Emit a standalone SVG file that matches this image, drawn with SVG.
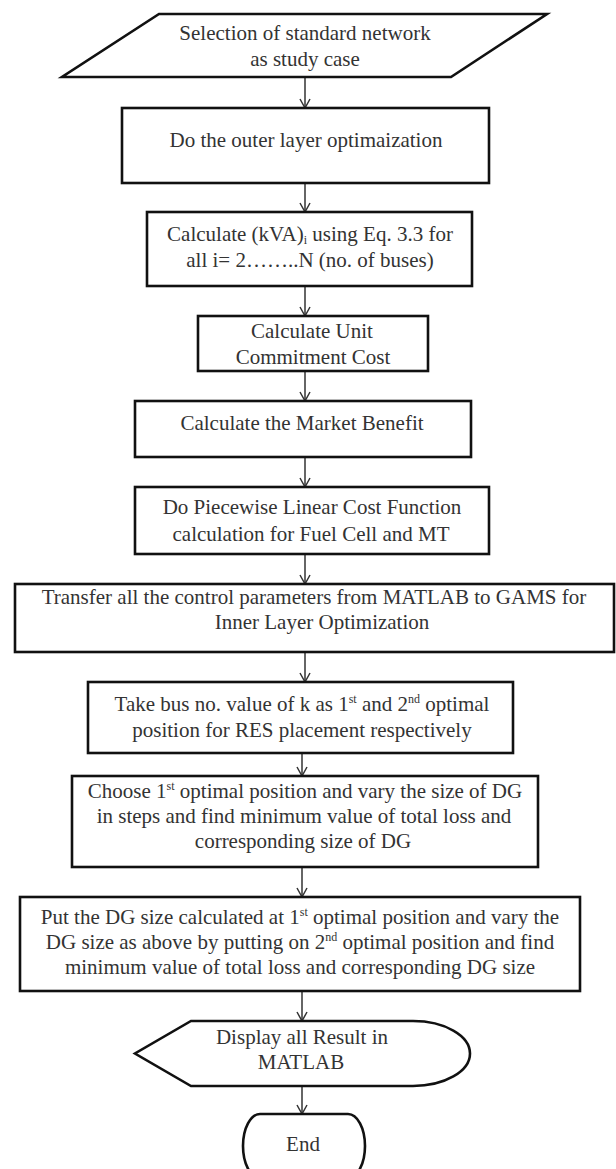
<svg xmlns="http://www.w3.org/2000/svg" width="616" height="1169" viewBox="0 0 616 1169">
<style>
.box{fill:#fff;stroke:#111;stroke-width:2.6}
.t{font-family:"Liberation Serif","Times New Roman",serif;font-size:21px;fill:#333;text-anchor:middle}
.c{stroke:#333;stroke-width:1.5;fill:none}
.sup{font-size:12px}
</style>
<defs>
<marker id="ah" markerWidth="12" markerHeight="12" refX="10" refY="6" orient="auto" markerUnits="userSpaceOnUse">
<path d="M1,1 L10,6 L1,11" fill="none" stroke="#333" stroke-width="1.5"/>
</marker>
</defs>
<rect width="616" height="1169" fill="#fff"/>
<g id="connectors">
<line class="c" x1="305" y1="77" x2="305" y2="108" marker-end="url(#ah)"/>
<line class="c" x1="305" y1="183" x2="305" y2="212" marker-end="url(#ah)"/>
<line class="c" x1="305" y1="286" x2="305" y2="316" marker-end="url(#ah)"/>
<line class="c" x1="305" y1="371" x2="305" y2="401" marker-end="url(#ah)"/>
<line class="c" x1="305" y1="457" x2="305" y2="487" marker-end="url(#ah)"/>
<line class="c" x1="305" y1="554" x2="305" y2="584" marker-end="url(#ah)"/>
<line class="c" x1="305" y1="652" x2="305" y2="682" marker-end="url(#ah)"/>
<line class="c" x1="302" y1="753" x2="302" y2="776" marker-end="url(#ah)"/>
<line class="c" x1="302" y1="867" x2="302" y2="897" marker-end="url(#ah)"/>
<line class="c" x1="302" y1="991" x2="302" y2="1021" marker-end="url(#ah)"/>
<line class="c" x1="302" y1="1086" x2="302" y2="1114" marker-end="url(#ah)"/>
</g>
<g id="n1">
<polygon class="box" points="159,14 547,14 451,77 62,77"/>
<text class="t" x="305" y="40">Selection of standard network</text>
<text class="t" x="305" y="66">as study case</text>
</g>
<g id="n2">
<rect class="box" x="122" y="108" width="367" height="75"/>
<text class="t" x="306" y="147">Do the outer layer optimaization</text>
</g>
<g id="n3">
<rect class="box" x="147" y="212" width="325" height="74"/>
<text class="t" x="310" y="241">Calculate (kVA)<tspan class="sup" dy="3">i</tspan><tspan dy="-3"> using Eq. 3.3 for</tspan></text>
<text class="t" x="310" y="267">all i= 2……..N (no. of buses)</text>
</g>
<g id="n4">
<rect class="box" x="198" y="316" width="230" height="55"/>
<text class="t" x="312" y="338">Calculate Unit</text>
<text class="t" x="313" y="364">Commitment Cost</text>
</g>
<g id="n5">
<rect class="box" x="135" y="401" width="336" height="56"/>
<text class="t" x="302" y="430">Calculate the Market Benefit</text>
</g>
<g id="n6">
<rect class="box" x="135" y="487" width="354" height="67"/>
<text class="t" x="312" y="514">Do Piecewise Linear Cost Function</text>
<text class="t" x="311" y="541">calculation for Fuel Cell and MT</text>
</g>
<g id="n7">
<rect class="box" x="15" y="584" width="599" height="68"/>
<text class="t" x="314" y="604">Transfer all the control parameters from MATLAB to GAMS for</text>
<text class="t" x="322" y="629">Inner Layer Optimization</text>
</g>
<g id="n8">
<rect class="box" x="88" y="682" width="425" height="71"/>
<text class="t" x="302" y="711">Take bus no. value of k as 1<tspan class="sup" dy="-8">st</tspan><tspan dy="8"> and 2</tspan><tspan class="sup" dy="-8">nd</tspan><tspan dy="8"> optimal</tspan></text>
<text class="t" x="302" y="737">position for RES placement respectively</text>
</g>
<g id="n9">
<rect class="box" x="72" y="776" width="466" height="91"/>
<text class="t" x="305" y="798">Choose 1<tspan class="sup" dy="-8">st</tspan><tspan dy="8"> optimal position and vary the size of DG</tspan></text>
<text class="t" x="304" y="823">in steps and find minimum value of total loss and</text>
<text class="t" x="303" y="848">corresponding size of DG</text>
</g>
<g id="n10">
<rect class="box" x="20" y="897" width="560" height="94"/>
<text class="t" x="300" y="924">Put the DG size calculated at 1<tspan class="sup" dy="-8">st</tspan><tspan dy="8"> optimal position and vary the</tspan></text>
<text class="t" x="300" y="949">DG size as above by putting on 2<tspan class="sup" dy="-8">nd</tspan><tspan dy="8"> optimal position and find</tspan></text>
<text class="t" x="300" y="974">minimum value of total loss and corresponding DG size</text>
</g>
<g id="n11">
<path class="box" d="M191,1021 L413,1021 A57,32.5 0 0 1 413,1086 L191,1086 L135,1053.5 Z"/>
<text class="t" x="302" y="1044">Display all Result in</text>
<text class="t" x="301" y="1069">MATLAB</text>
</g>
<g id="n12">
<path class="box" d="M260,1114 L348,1114 A17,32 0 0 1 348,1178 L260,1178 A17,32 0 0 1 260,1114 Z"/>
<text class="t" x="303" y="1151">End</text>
</g>
</svg>
